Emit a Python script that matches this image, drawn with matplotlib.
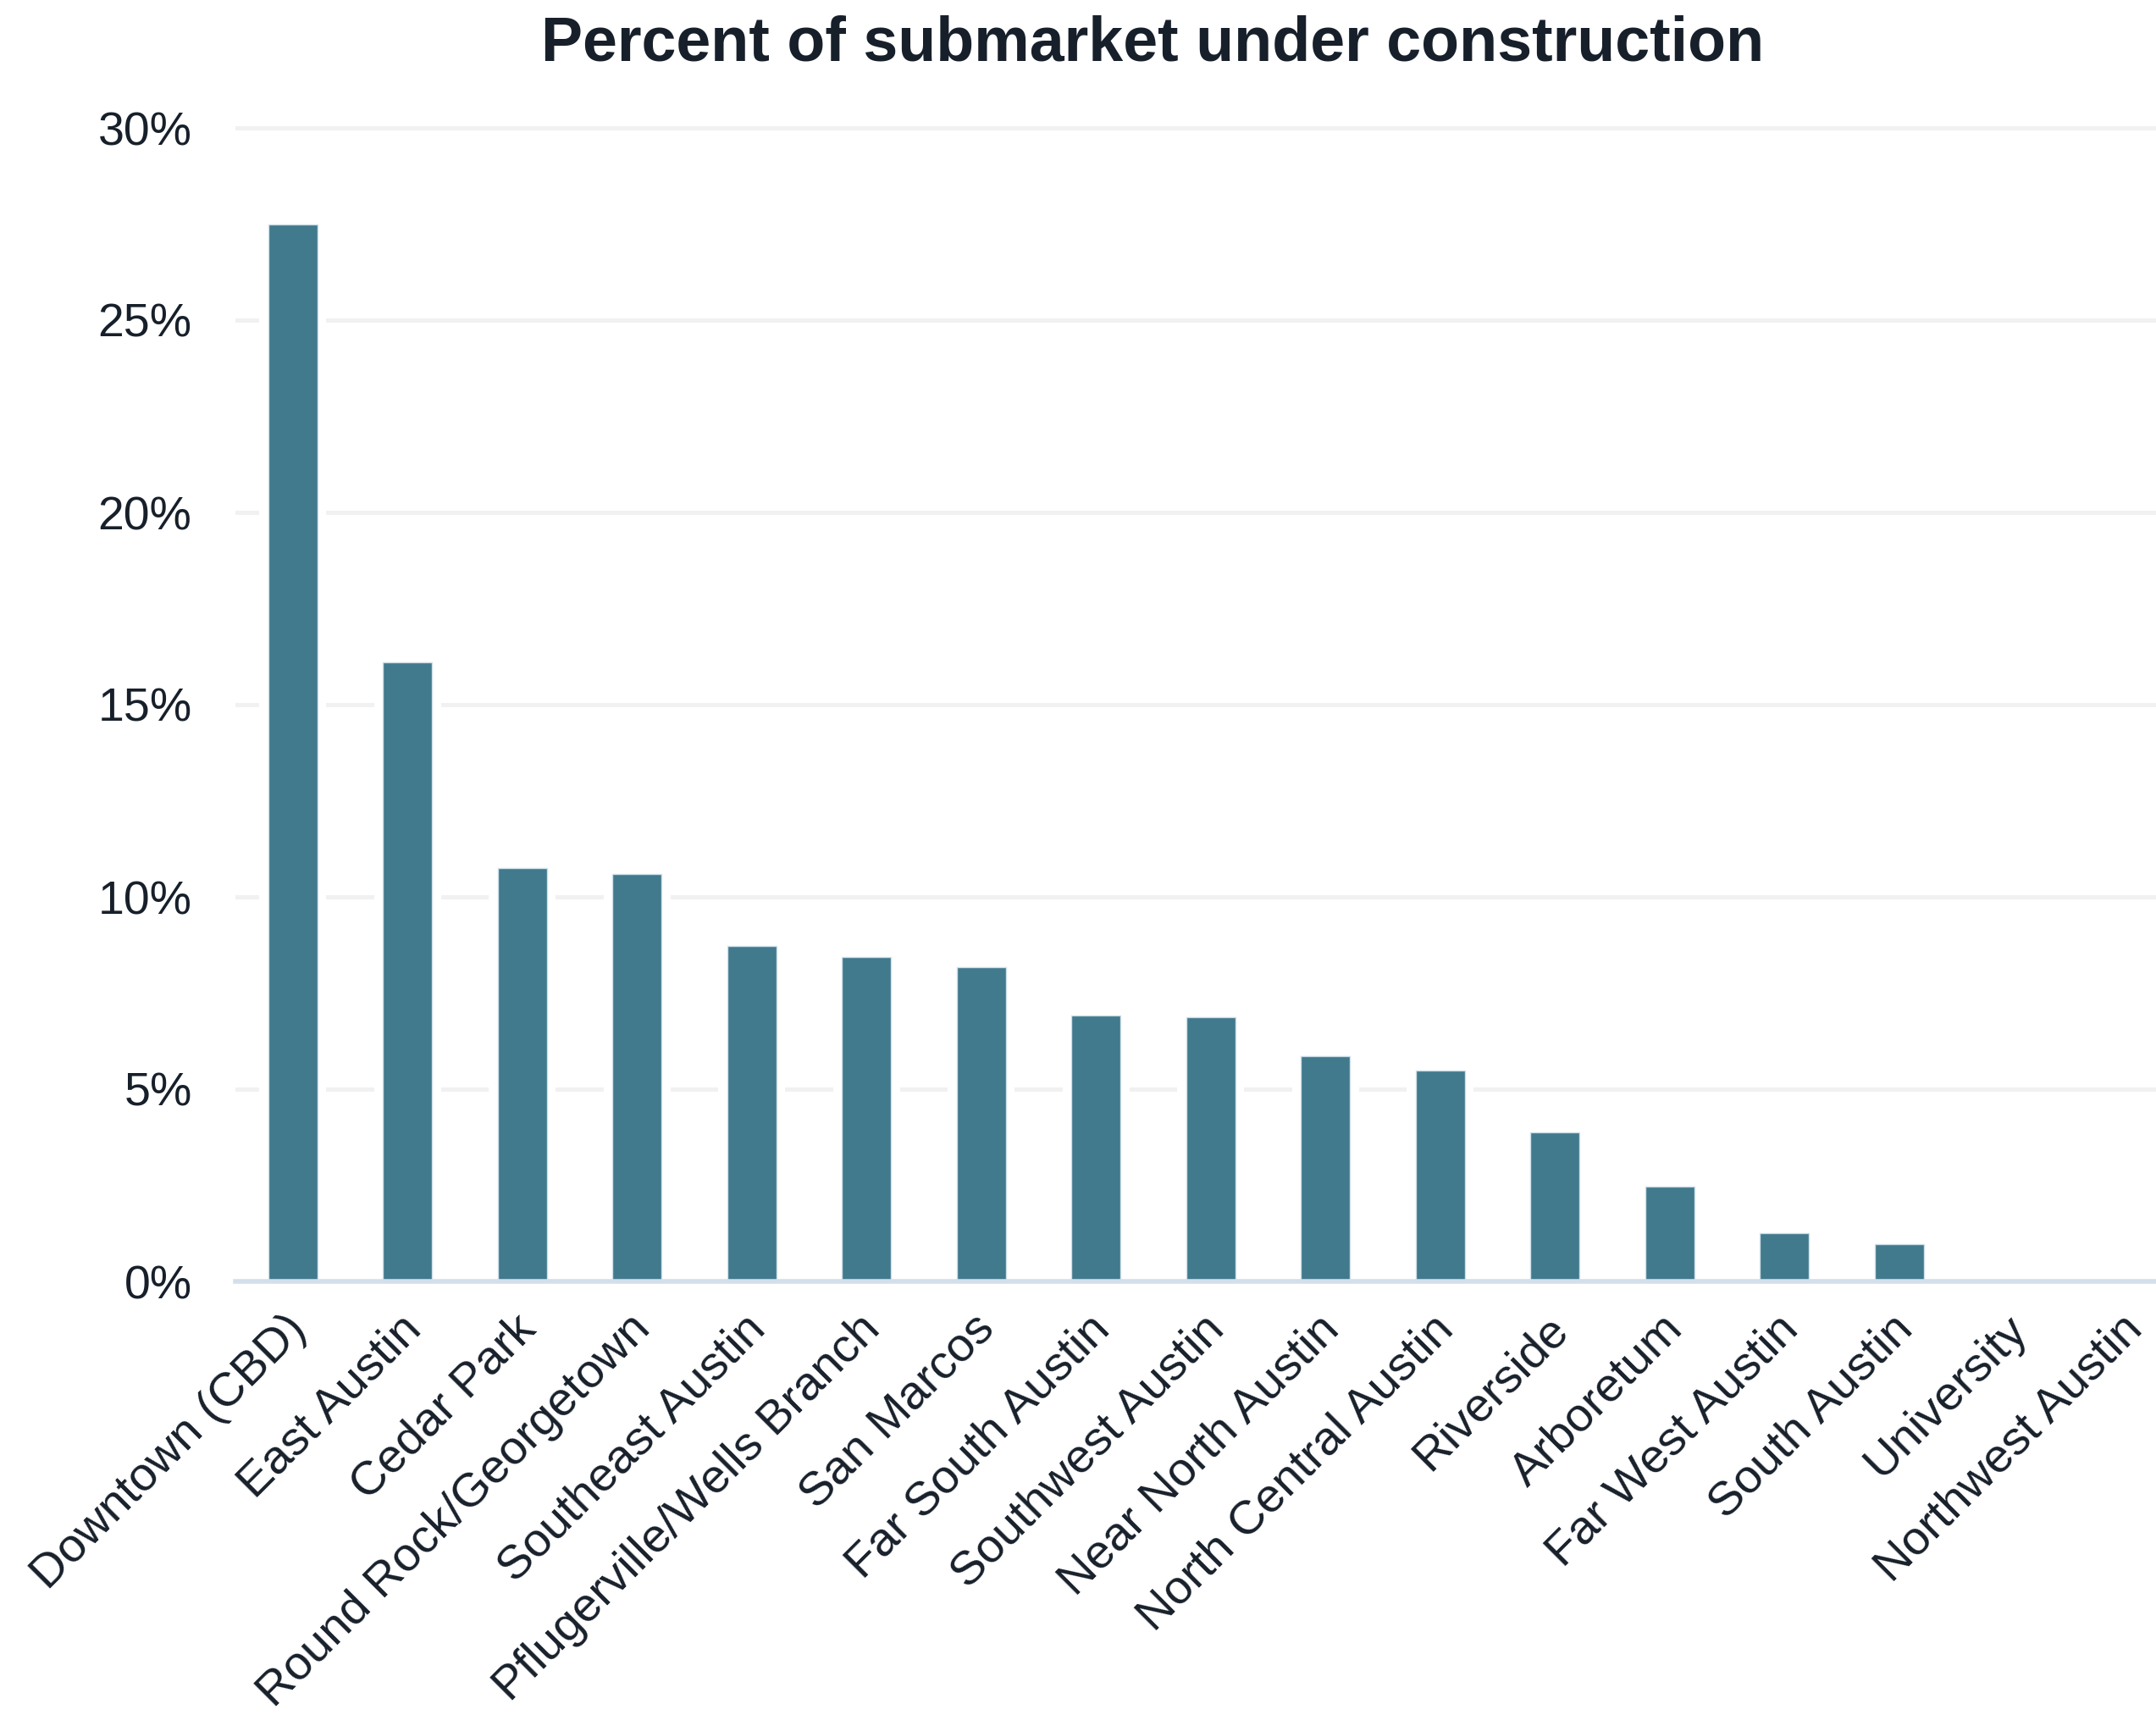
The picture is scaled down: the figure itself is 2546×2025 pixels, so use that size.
import matplotlib
matplotlib.use("Agg")
import matplotlib.pyplot as plt
from matplotlib.ticker import FuncFormatter
from matplotlib.transforms import ScaledTranslation

# Submarkets and share of inventory under construction (%)
submarkets = [
    "Downtown (CBD)", "East Austin", "Cedar Park", "Round Rock/Georgetown",
    "Southeast Austin", "Pflugerville/Wells Branch", "San Marcos",
    "Far South Austin", "Southwest Austin", "Near North Austin",
    "North Central Austin", "Riverside", "Arboretum", "Far West Austin",
    "South Austin", "University", "Northwest Austin",
]
pct_under_construction = [
    27.5, 16.1, 10.75, 10.6, 8.73, 8.44, 8.18, 6.92, 6.87, 5.86,
    5.48, 3.87, 2.46, 1.25, 0.98, 0.0, 0.0,
]
y_ticks = [0, 5, 10, 15, 20, 25, 30]

TEXT = "#17202A"
BAR = "#41798D"

plt.rcParams["font.family"] = ["Liberation Sans", "DejaVu Sans"]

W, H = 2546, 2025
fig = plt.figure(figsize=(W / 100, H / 100), dpi=100)

ymax = 30.15
px_per_pct = 45.4
ax_left, ax_right = 278.0, 278.0 + 17 * 135.5
ax_bottom = 1513.0
ax_top = ax_bottom - ymax * px_per_pct
ax = fig.add_axes([ax_left / W, 1 - ax_bottom / H,
                   (ax_right - ax_left) / W, (ax_bottom - ax_top) / H])

x = list(range(len(submarkets)))
# white backing keeps the gridlines from touching the bars
ax.bar(x, pct_under_construction, width=0.58, color="white", zorder=2)
ax.bar(x, pct_under_construction, width=0.43, color=BAR,
       edgecolor="#CFE0E8", linewidth=1.0, zorder=3)

ax.set_xlim(-0.5, len(submarkets) - 0.5)
ax.set_ylim(0, ymax)
ax.set_yticks(y_ticks)
ax.yaxis.set_major_formatter(FuncFormatter(lambda v, _: f"{v:.0f}%"))
ax.grid(axis="y", color="#F1F1F1", linewidth=3.6, zorder=1)
ax.set_axisbelow(True)

for side in ("top", "right", "left"):
    ax.spines[side].set_visible(False)
ax.spines["bottom"].set_color("#D3DFEB")
ax.spines["bottom"].set_linewidth(4.0)
ax.spines["bottom"].set_zorder(4)

ax.tick_params(axis="y", length=0, pad=37, labelsize=40, labelcolor=TEXT)
ax.tick_params(axis="x", length=0, pad=35, labelsize=40.5, labelcolor=TEXT)
ax.set_xticks(x)
ax.set_xticklabels(submarkets, rotation=45, ha="right", va="center",
                   rotation_mode="anchor")
shift = ScaledTranslation(0.08, 0.0, fig.dpi_scale_trans)
for lbl in ax.get_xticklabels():
    lbl.set_transform(lbl.get_transform() + shift)

fig.text(1361 / W, 1 - 52 / H, "Percent of submarket under construction",
         ha="center", va="center", fontsize=53, fontweight="bold", color=TEXT)

fig.savefig("out.png", dpi=100, facecolor="white")
